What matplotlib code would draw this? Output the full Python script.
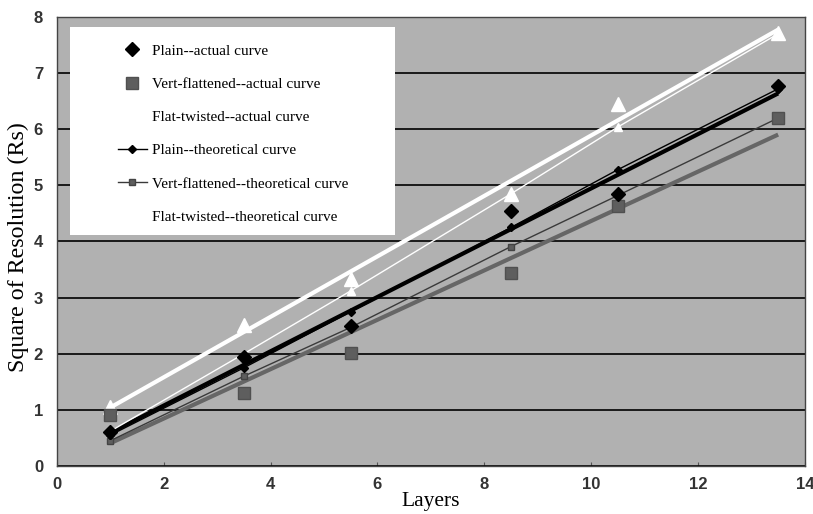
import numpy as np
import matplotlib.pyplot as plt
from matplotlib.patches import Rectangle

# Layers sampled for every specimen type
layers = [1, 3.5, 5.5, 8.5, 10.5, 13.5]

# Measured Rs^2 values
plain_actual = [0.60, 1.95, 2.50, 4.54, 4.85, 6.77]
vert_actual = [0.90, 1.30, 2.02, 3.43, 4.64, 6.20]
flat_actual = [1.05, 2.52, 3.33, 4.84, 6.45, 7.72]

# Theoretical Rs^2 values
plain_theory = [0.55, 1.75, 2.75, 4.25, 5.28, 6.72]
vert_theory = [0.45, 1.60, 2.47, 3.91, 4.82, 6.20]
flat_theory = [0.62, 2.00, 3.12, 4.85, 6.04, 7.70]

BG = "#b1b1b1"
DARK = "#5e5e5e"

plt.rcParams["font.family"] = ["Liberation Serif", "DejaVu Serif"]

fig = plt.figure(figsize=(8.13, 5.14), dpi=100)
ax = fig.add_axes([0.070, 0.0934, 0.920, 0.8736])
ax.set_facecolor(BG)

x = np.array(layers)
xfit = np.array([x.min(), x.max()])

# linear trendlines through the measured points
for ys, col in [(flat_actual, "white"), (vert_actual, "#666666"), (plain_actual, "black")]:
    k, b = np.polyfit(x, ys, 1)
    ax.plot(xfit, k * xfit + b, color=col, lw=3.0, zorder=3, solid_capstyle="butt")

# theoretical curves
ax.plot(x, flat_theory, color="white", lw=1.0, marker="^", ms=6,
        mfc="white", mec="white", zorder=4, label="Flat-twisted--theoretical curve")
ax.plot(x, vert_theory, color="#3a3a3a", lw=1.0, marker="s", ms=5,
        mfc=DARK, mec="#444444", zorder=4, label="Vert-flattened--theoretical curve")
ax.plot(x, plain_theory, color="black", lw=1.0, marker="D", ms=4,
        mfc="black", mec="black", zorder=4, label="Plain--theoretical curve")

# measured points
ax.plot(x, flat_actual, ls="none", marker="^", ms=10, mfc="white", mec="white",
        zorder=5, label="Flat-twisted--actual curve")
ax.plot(x, vert_actual, ls="none", marker="s", ms=9, mfc=DARK, mec="#505050",
        zorder=5, label="Vert-flattened--actual curve")
ax.plot(x, plain_actual, ls="none", marker="D", ms=7.5, mfc="black", mec="black",
        zorder=5, label="Plain--actual curve")

ax.set_xlim(0, 14)
ax.set_ylim(0, 8)
ax.set_xticks(range(0, 15, 2))
ax.set_yticks(range(0, 9))
ax.yaxis.grid(True, color="black", lw=1.2, zorder=1)
ax.set_axisbelow(True)
for s in ax.spines.values():
    s.set_color("#444444")
    s.set_linewidth(1.0)

ax.tick_params(axis="x", direction="in", length=3, color="#555555", pad=8)
ax.tick_params(axis="y", length=0, pad=10)
for lab in ax.get_xticklabels() + ax.get_yticklabels():
    lab.set_fontfamily(["Liberation Sans", "DejaVu Sans"])
    lab.set_fontweight("bold")
    lab.set_fontsize(12)
    lab.set_color("#333333")

ax.set_xlabel("Layers", fontsize=15.5, labelpad=0)
ax.set_ylabel("Square of Resolution (Rs)", fontsize=17.3)
ax.yaxis.set_label_coords(-0.037, 0.487)

# white legend panel, wider than the legend text itself
ax.add_patch(Rectangle((0.0174, 0.514), 0.4346, 0.464, transform=ax.transAxes,
                       facecolor="white", edgecolor="none", zorder=6))

handles, labels = ax.get_legend_handles_labels()
order = ["Plain--actual curve", "Vert-flattened--actual curve", "Flat-twisted--actual curve",
         "Plain--theoretical curve", "Vert-flattened--theoretical curve",
         "Flat-twisted--theoretical curve"]
hmap = dict(zip(labels, handles))
leg = ax.legend([hmap[l] for l in order], order, loc="upper left",
                bbox_to_anchor=(0.0816, 0.94), fontsize=11, frameon=False,
                labelspacing=1.28, borderpad=0, handlelength=1.9,
                borderaxespad=0, handletextpad=0.35)
leg.set_zorder(7)

fig.savefig("out.png", dpi=100)
